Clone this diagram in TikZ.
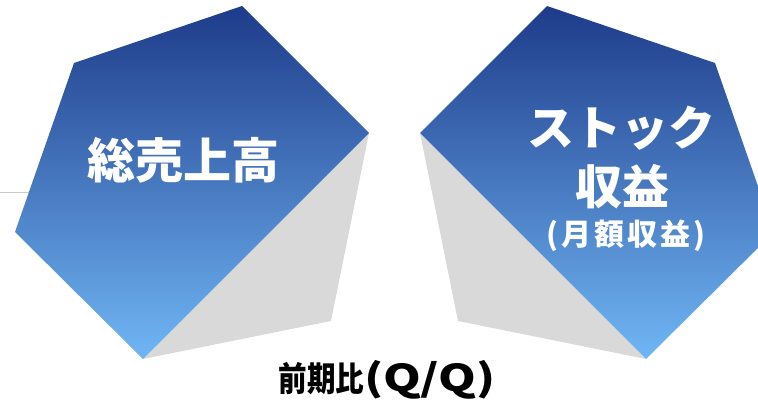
\documentclass[tikz,border=0pt]{standalone}
\usepackage{fontspec}
\newfontfamily\cjk{Noto Sans CJK JP}
\definecolor{navytop}{HTML}{1E3B8A}
\definecolor{skybot}{HTML}{70B6F4}
\definecolor{shadowgrey}{HTML}{D9D9D9}
\definecolor{rulegrey}{HTML}{CCCCCC}
\tikzset{
  facet/.style={top color=navytop, bottom color=skybot, draw=none},
  shadowfacet/.style={fill=shadowgrey, draw=none},
  bigtitle/.style={text=white, font=\cjk\bfseries\fontsize{48}{56}\selectfont, align=center, inner sep=0pt},
  subtitle/.style={text=white, font=\cjk\bfseries\fontsize{30}{34}\selectfont\addfontfeature{LetterSpace=10}, inner sep=0pt},
  caption/.style={text=black, font=\cjk\bfseries, inner sep=0pt}
}
\begin{document}
\begin{tikzpicture}[x=1pt,y=-1pt]
\useasboundingbox (0,0) rectangle (758,404);
\clip (0,0) rectangle (758,404);
% faint rule
\draw[rulegrey, line width=0.8pt] (0,192) -- (120,192);
% left shape
\coordinate (L1) at (74,63);
\coordinate (L2) at (242,6);
\coordinate (L3) at (369,133);
\coordinate (L4) at (143,359);
\coordinate (L5) at (15,232);
\coordinate (L6) at (331,321);
\fill[shadowfacet] (L3) -- (L6) -- (L4) -- cycle;
\shade[facet] (L1) -- (L2) -- (L3) -- (L4) -- (L5) -- cycle;
% right shape
\coordinate (R1) at (715,63);
\coordinate (R2) at (547,6);
\coordinate (R3) at (420,133);
\coordinate (R4) at (646,359);
\coordinate (R5) at (774,232);
\coordinate (R6) at (458,321);
\fill[shadowfacet] (R3) -- (R6) -- (R4) -- cycle;
\shade[facet] (R1) -- (R2) -- (R3) -- (R4) -- (R5) -- cycle;
% texts
\node[bigtitle] (left) at (183,160) {総売上高};
\node[bigtitle, font=\cjk\bfseries\fontsize{47}{56}\selectfont] (stock) at (621,128) {ストック};
\node[bigtitle, font=\cjk\bfseries\fontsize{47}{56}\selectfont] (shueki) at (622,187) {収益};
\node[subtitle, anchor=base] (getsugaku) at (626,245) {(月額収益)};
\node[caption, anchor=base] (qq) at (387,391)
  {\fontsize{34}{40}\selectfont\scalebox{0.84}[1]{前期比}\scalebox{1.3}[1]{\fontsize{37}{44}\selectfont(Q/Q)}};
\end{tikzpicture}
\end{document}
